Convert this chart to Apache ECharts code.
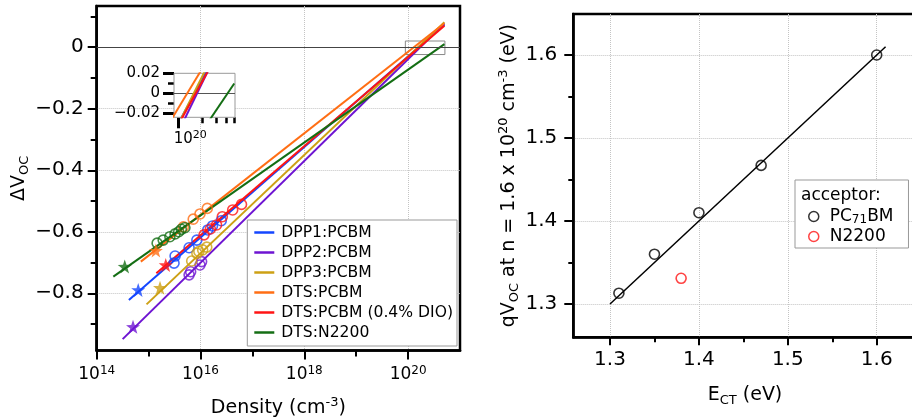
<!DOCTYPE html>
<html>
<head>
<meta charset="utf-8">
<script src="https://cdn.jsdelivr.net/npm/echarts@6/dist/echarts.min.js"></script>
<style>
html, body { margin: 0; padding: 0; background: #fff; }
#main { width: 912px; height: 420px; }
</style>
</head>
<body>
<div id="main"></div>
<script>
var chart = echarts.init(document.getElementById('main'));
var FONT = 'DejaVu Sans';

// ---- left panel: dVoc vs carrier density (cm^-3) ----
var names = ['DPP1:PCBM', 'DPP2:PCBM', 'DPP3:PCBM', 'DTS:PCBM', 'DTS:PCBM (0.4% DIO)', 'DTS:N2200'];
var colors = ['#1446ff', '#6e14d2', '#cda014', '#ff6e14', '#ff1414', '#146e14'];

// fitted lines, [density, dVoc] at both ends
var fitDPP1 = [[4.17e14, -0.822], [5.01e20, 0.073]];
var fitDPP2 = [[3.16e14, -0.949], [5.01e20, 0.077]];
var fitDPP3 = [[9.12e14, -0.836], [5.01e20, 0.081]];
var fitDTS = [[7.08e14, -0.697], [5.01e20, 0.078]];
var fitDIO = [[1.41e15, -0.735], [5.01e20, 0.070]];
var fitN2200 = [[2.09e14, -0.746], [5.01e20, 0.010]];

// measured points (open circles)
var ptsDPP1 = [[3.24e15, -0.679], [3.09e15, -0.702], [6.03e15, -0.652], [8.51e15, -0.627], [1.38e16, -0.594], [1.70e16, -0.581], [2.51e16, -0.564]];
var ptsDPP2 = [[6.03e15, -0.740], [6.46e15, -0.730], [9.77e15, -0.708], [1.05e16, -0.697]];
var ptsDPP3 = [[6.76e15, -0.695], [8.51e15, -0.670], [9.30e15, -0.664], [1.10e16, -0.659], [1.32e16, -0.650]];
var ptsDTS = [[4.70e15, -0.584], [7.24e15, -0.559], [9.77e15, -0.542], [1.35e16, -0.524]];
var ptsDIO = [[1.17e16, -0.610], [1.55e16, -0.591], [2.04e16, -0.578], [2.63e16, -0.551], [4.17e16, -0.529], [6.17e16, -0.511]];
var ptsN2200 = [[1.46e15, -0.637], [1.91e15, -0.627], [2.57e15, -0.616], [3.24e15, -0.607], [3.80e15, -0.600], [4.27e15, -0.592], [5.00e15, -0.587]];

// stars at the low density end
var starDPP1 = [[6.31e14, -0.789]];
var starDPP2 = [[5.01e14, -0.909]];
var starDPP3 = [[1.66e15, -0.782]];
var starDTS = [[1.38e15, -0.661]];
var starDIO = [[2.14e15, -0.708]];
var starN2200 = [[3.47e14, -0.713]];

var fits = [fitDPP1, fitDPP2, fitDPP3, fitDTS, fitDIO, fitN2200];
var pts = [ptsDPP1, ptsDPP2, ptsDPP3, ptsDTS, ptsDIO, ptsN2200];
var stars = [starDPP1, starDPP2, starDPP3, starDTS, starDIO, starN2200];

// axis ranges and ticks
var densRange = [1e14, 1e21];
var dvRange = [-0.986, 0.134];
var densMajor = [1e14, 1e16, 1e18, 1e20];
var densMinor = [1e15, 1e17, 1e19, 1e21];
var dvMajor = [-0.8, -0.6, -0.4, -0.2, 0];
var dvMinor = [-0.9, -0.7, -0.5, -0.3, -0.1, 0.1];

// inset (zoom around dVoc = 0)
var insetX = [8.85e19, 5.12e20];
var insetY = [-0.0238, 0.0202];
var insetXMajor = [1e20];
var insetXMinor = [2e20, 3e20, 4e20, 5e20];
var insetYMajor = [-0.02, 0, 0.02];
var insetYMinor = [-0.01, 0.01];

// ---- right panel: qVoc at n = 1.6e20 vs E_CT ----
var ectPC71 = [1.31, 1.35, 1.40, 1.47, 1.60];
var qvocPC71 = [1.313, 1.36, 1.41, 1.467, 1.60];
var ectN2200 = [1.38];
var qvocN2200 = [1.331];
var fitEct = [[1.30, 1.30], [1.61, 1.61]];
var ectRange = [1.2587, 1.645];
var qvRange = [1.2599, 1.6494];
var ectMajor = [1.3, 1.4, 1.5, 1.6];
var ectMinor = [1.35, 1.45, 1.55];

var STAR = 'path://M0,-10 L2.35,-3.24 L9.51,-3.09 L3.8,1.24 L5.88,8.09 L0,4 L-5.88,8.09 L-3.8,1.24 L-9.51,-3.09 L-2.35,-3.24 Z';
var GRIDLINE = { color: '#c4c4c4', type: 'dotted', width: 1 };

function minus(s) { return s.replace('-', '\u2212'); }

function tickAxis(o) {
  // one axis that draws only a set of ticks (and optionally labels)
  // the axis line has to stay "shown" (transparent) or the ticks are not drawn
  var a = {
    type: o.type, gridIndex: o.grid, min: o.range[0], max: o.range[1], position: o.pos,
    axisLine: { show: true, onZero: false, lineStyle: { color: o.line ? '#000' : 'rgba(0,0,0,0)', width: o.line || 1 } },
    axisTick: { show: true, inside: false, length: o.len, customValues: o.ticks, lineStyle: { color: '#000', width: o.tw } },
    axisLabel: { show: false },
    splitLine: o.split ? { show: true, lineStyle: GRIDLINE } : { show: false },
    minorTick: { show: false }, minorSplitLine: { show: false }
  };
  if (o.type === 'log') a.logBase = 10;
  if (o.labels) {
    a.axisLabel = { show: true, customValues: o.ticks, margin: o.margin, color: '#000', fontFamily: FONT, fontSize: o.fs, formatter: o.fmt, rich: o.rich, padding: o.lpad };
  }
  if (o.name) {
    a.name = o.name; a.nameLocation = 'middle'; a.nameGap = o.gap;
    a.nameTextStyle = { color: '#000', fontFamily: FONT, fontSize: 19, rich: o.nameRich };
  }
  return a;
}

var supRich = function (base, sup) {
  return {
    b: { fontFamily: FONT, fontSize: base, lineHeight: base + 4, color: '#000' },
    p: { fontFamily: FONT, fontSize: sup, lineHeight: sup, verticalAlign: 'top', color: '#000' }
  };
};
var nameRich = {
  a: { fontFamily: FONT, fontSize: 19, lineHeight: 24, color: '#000' },
  s: { fontFamily: FONT, fontSize: 13, lineHeight: 13, verticalAlign: 'bottom', color: '#000' },
  p: { fontFamily: FONT, fontSize: 13, lineHeight: 13, verticalAlign: 'top', color: '#000' }
};
function expLabel(v) { return '{b|10}{p|' + Math.round(Math.log10(v)) + '}'; }

var xAxes = [
  tickAxis({ type: 'log', grid: 0, range: densRange, pos: 'bottom', line: 2.5, len: 9, tw: 2, ticks: densMajor, split: true,
    labels: true, margin: 14, fs: 17, fmt: expLabel, rich: supRich(17, 12),
    name: '{a|Density (cm}{p|-3}{a|)}', gap: 46, nameRich: nameRich }),
  tickAxis({ type: 'log', grid: 0, range: densRange, pos: 'bottom', len: 6, tw: 2, ticks: densMinor }),
  tickAxis({ type: 'log', grid: 1, range: insetX, pos: 'bottom', len: 11, tw: 3, ticks: insetXMajor,
    labels: true, margin: 12, fs: 15, lpad: [0, 0, 0, 24], fmt: function (v) { return '{b|10}{p|20}'; }, rich: supRich(15, 11) }),
  tickAxis({ type: 'log', grid: 1, range: insetX, pos: 'bottom', len: 6, tw: 2.5, ticks: insetXMinor }),
  tickAxis({ type: 'value', grid: 2, range: ectRange, pos: 'bottom', line: 2.5, len: 8, tw: 2, ticks: ectMajor, split: true,
    labels: true, margin: 12, fs: 20, fmt: function (v) { return v.toFixed(1); },
    name: '{a|E}{s|CT}{a| (eV)}', gap: 46, nameRich: nameRich }),
  tickAxis({ type: 'value', grid: 2, range: ectRange, pos: 'bottom', len: 5, tw: 2, ticks: ectMinor })
];

var yAxes = [
  tickAxis({ type: 'value', grid: 0, range: dvRange, pos: 'left', line: 2.5, len: 9, tw: 2, ticks: dvMajor, split: true,
    labels: true, margin: 13, fs: 20, fmt: function (v) { return v === 0 ? '0' : minus(v.toFixed(1)); },
    name: '{a|\u0394V}{s|OC}', gap: 62, nameRich: nameRich }),
  tickAxis({ type: 'value', grid: 0, range: dvRange, pos: 'left', len: 6, tw: 2, ticks: dvMinor }),
  tickAxis({ type: 'value', grid: 1, range: insetY, pos: 'left', len: 11, tw: 3, ticks: insetYMajor,
    labels: true, margin: 14, fs: 15, fmt: function (v) { return v === 0 ? '0' : minus(v.toFixed(2)); } }),
  tickAxis({ type: 'value', grid: 1, range: insetY, pos: 'left', len: 6, tw: 2.5, ticks: insetYMinor }),
  tickAxis({ type: 'value', grid: 2, range: qvRange, pos: 'left', line: 2.5, len: 9, tw: 2, ticks: ectMajor, split: true,
    labels: true, margin: 16, fs: 20, fmt: function (v) { return v.toFixed(1); },
    name: '{a|qV}{s|OC}{a| at n = 1.6 x 10}{p|20}{a| cm}{p|-3}{a| (eV)}', gap: 52, nameRich: nameRich }),
  tickAxis({ type: 'value', grid: 2, range: qvRange, pos: 'left', len: 5, tw: 2, ticks: ectMinor })
];

var series = [];
// main panel: fitted lines
names.forEach(function (n, i) {
  series.push({
    name: n, type: 'line', xAxisIndex: 0, yAxisIndex: 0, data: fits[i],
    showSymbol: false, lineStyle: { color: colors[i], width: 2 }, itemStyle: { color: colors[i] }, z: 3
  });
});
// zero line and inset outline
series.push({
  name: 'zero', type: 'line', xAxisIndex: 0, yAxisIndex: 0, data: [], z: 2,
  markLine: { silent: true, symbol: 'none', label: { show: false }, lineStyle: { color: '#444', width: 1, type: 'solid' }, data: [{ yAxis: 0 }] },
  markArea: { silent: true, itemStyle: { color: 'rgba(0,0,0,0)', borderColor: '#888', borderWidth: 1 },
    data: [[{ coord: [insetX[0], insetY[1]] }, { coord: [insetX[1], insetY[0]] }]] }
});
// circles and stars
names.forEach(function (n, i) {
  series.push({
    name: n + ' data', type: 'scatter', xAxisIndex: 0, yAxisIndex: 0, data: pts[i],
    symbol: 'circle', symbolSize: 10, z: 4,
    itemStyle: { color: 'rgba(0,0,0,0)', borderColor: colors[i], borderWidth: 1.6 }
  });
  series.push({
    name: n + ' star', type: 'scatter', xAxisIndex: 0, yAxisIndex: 0, data: stars[i],
    symbol: STAR, symbolSize: 14, z: 5, itemStyle: { color: colors[i] }
  });
});
// inset: same fitted lines
names.forEach(function (n, i) {
  series.push({
    name: n + ' inset', type: 'line', xAxisIndex: 2, yAxisIndex: 2, data: fits[i], clip: true,
    showSymbol: false, lineStyle: { color: colors[i], width: 2 }, z: 6
  });
});
series.push({
  name: 'inset zero', type: 'line', xAxisIndex: 2, yAxisIndex: 2, data: [], z: 5,
  markLine: { silent: true, symbol: 'none', label: { show: false }, lineStyle: { color: '#555', width: 1, type: 'solid' }, data: [{ yAxis: 0 }] }
});
// right panel
series.push({
  name: 'fit', type: 'line', xAxisIndex: 4, yAxisIndex: 4, data: fitEct,
  showSymbol: false, lineStyle: { color: '#000', width: 1.5 }, z: 3
});
series.push({
  name: 'PC71BM', type: 'scatter', xAxisIndex: 4, yAxisIndex: 4,
  data: ectPC71.map(function (x, i) { return [x, qvocPC71[i]]; }),
  symbol: 'circle', symbolSize: 10, z: 4,
  itemStyle: { color: 'rgba(0,0,0,0)', borderColor: '#000', borderWidth: 1.6 }
});
series.push({
  name: 'N2200', type: 'scatter', xAxisIndex: 4, yAxisIndex: 4,
  data: ectN2200.map(function (x, i) { return [x, qvocN2200[i]]; }),
  symbol: 'circle', symbolSize: 10, z: 4,
  itemStyle: { color: 'rgba(0,0,0,0)', borderColor: '#ff1414', borderWidth: 1.6 }
});

var option = {
  animation: false,
  backgroundColor: '#fff',
  textStyle: { fontFamily: FONT },
  title: {
    text: 'acceptor:', left: 801, top: 187, padding: 0,
    textStyle: { fontFamily: FONT, fontSize: 17, fontWeight: 'normal', color: '#000' }
  },
  grid: [
    { left: 96.7, top: 6, width: 363.3, height: 344.5, show: true, borderColor: '#000', borderWidth: 2.5, backgroundColor: 'rgba(0,0,0,0)', outerBoundsMode: 'none' },
    { left: 174, top: 73.3, width: 61, height: 44, show: true, z: 1, borderColor: '#999', borderWidth: 1, backgroundColor: '#fff', outerBoundsMode: 'none' },
    { left: 573.3, top: 14, width: 343.4, height: 323.3, show: true, borderColor: '#000', borderWidth: 2.5, backgroundColor: 'rgba(0,0,0,0)', outerBoundsMode: 'none' }
  ],
  legend: [
    {
      orient: 'vertical', left: 247.3, top: 220, data: names, icon: 'rect',
      itemWidth: 20, itemHeight: 2.5, itemGap: 3, padding: [4, 4, 5, 7],
      borderColor: '#999', borderWidth: 1, backgroundColor: '#fff', selectedMode: false,
      textStyle: { fontFamily: FONT, fontSize: 15.6, lineHeight: 17, color: '#000', padding: [0, 0, 0, 2] }
    },
    {
      orient: 'vertical', left: 795, top: 180,
      data: [
        { name: 'PC71BM', icon: 'circle', itemStyle: { color: 'rgba(0,0,0,0)', borderColor: '#000', borderWidth: 1.5 } },
        { name: 'N2200', icon: 'circle', itemStyle: { color: 'rgba(0,0,0,0)', borderColor: '#ff1414', borderWidth: 1.5 } }
      ],
      itemWidth: 10, itemHeight: 10, itemGap: 2, padding: [28, 15, 3, 13],
      borderColor: '#999', borderWidth: 1, backgroundColor: '#fff', selectedMode: false,
      formatter: function (n) { return n === 'PC71BM' ? '{a|PC}{s|71}{a|BM}' : '{a|' + n + '}'; },
      textStyle: {
        padding: [0, 0, 0, 6],
        rich: {
          a: { fontFamily: FONT, fontSize: 17, lineHeight: 19, color: '#000' },
          s: { fontFamily: FONT, fontSize: 12, lineHeight: 12, verticalAlign: 'bottom', color: '#000' }
        }
      }
    }
  ],
  xAxis: xAxes,
  yAxis: yAxes,
  series: series
};

chart.setOption(option);
window.addEventListener('resize', function () { chart.resize(); });
</script>
</body>
</html>
